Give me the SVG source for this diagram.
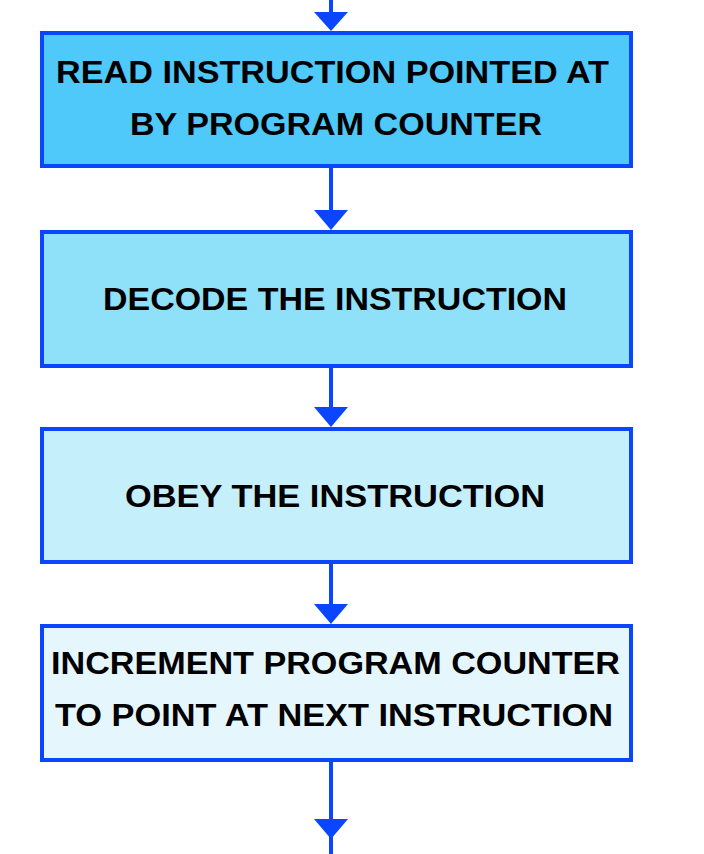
<svg xmlns="http://www.w3.org/2000/svg" width="704" height="854" viewBox="0 0 704 854">
<style>
.box{stroke:#0a46ff;stroke-width:4}
.lbl{font-family:"Liberation Sans",Arial,sans-serif;font-weight:bold;font-size:31px;fill:#000}
.conn line{stroke:#0a46ff;stroke-width:4}
.conn polygon{fill:#0a46ff}
</style>
<rect width="704" height="854" fill="#ffffff"/>
<g id="connectors" class="conn">
<line x1="331" y1="0" x2="331" y2="20"/>
<polygon points="314,12 348,12 331,31"/>
<line x1="331" y1="167" x2="331" y2="215"/>
<polygon points="314,210 348,210 331,230"/>
<line x1="331" y1="367" x2="331" y2="412"/>
<polygon points="314,407 348,407 331,427"/>
<line x1="331" y1="563" x2="331" y2="610"/>
<polygon points="314,604 348,604 331,624"/>
<line x1="331" y1="761" x2="331" y2="854"/>
<polygon points="314,819 348,819 331,839"/>
</g>
<g id="node-read">
<rect class="box" x="42" y="33" width="589" height="133" fill="#4fc8fa"/>
<text class="lbl" x="56" y="83" textLength="553" lengthAdjust="spacingAndGlyphs">READ INSTRUCTION POINTED AT</text>
<text class="lbl" x="130" y="135" textLength="412" lengthAdjust="spacingAndGlyphs">BY PROGRAM COUNTER</text>
</g>
<g id="node-decode">
<rect class="box" x="42" y="232" width="589" height="134" fill="#8fe1fa"/>
<text class="lbl" x="103" y="310" textLength="464" lengthAdjust="spacingAndGlyphs">DECODE THE INSTRUCTION</text>
</g>
<g id="node-obey">
<rect class="box" x="42" y="429" width="589" height="133" fill="#c6effc"/>
<text class="lbl" x="125" y="507" textLength="420" lengthAdjust="spacingAndGlyphs">OBEY THE INSTRUCTION</text>
</g>
<g id="node-increment">
<rect class="box" x="42" y="626" width="589" height="134" fill="#e5f7fd"/>
<text class="lbl" x="51" y="674" textLength="569" lengthAdjust="spacingAndGlyphs">INCREMENT PROGRAM COUNTER</text>
<text class="lbl" x="55" y="726" textLength="558" lengthAdjust="spacingAndGlyphs">TO POINT AT NEXT INSTRUCTION</text>
</g>
</svg>
